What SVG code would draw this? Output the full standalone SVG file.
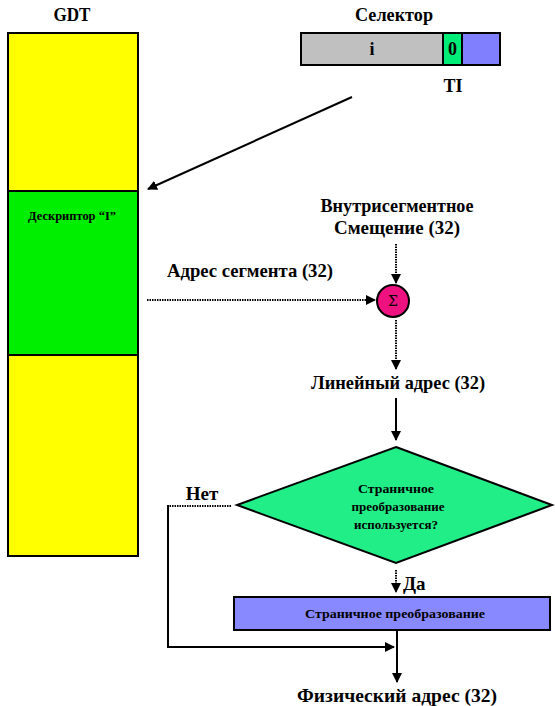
<svg xmlns="http://www.w3.org/2000/svg" width="555" height="706" viewBox="0 0 555 706">
  <style>
    text { font-family: "Liberation Serif", "DejaVu Serif", serif; font-weight: bold; fill: #000; }
    .big { font-size: 19px; }
    .mid { font-size: 18px; }
    .small { font-size: 12px; }
    .box { stroke: #000; stroke-width: 2; }
    .solid { fill: none; stroke: #000; stroke-width: 2; }
    .dotted { fill: none; stroke: #000; stroke-width: 2; stroke-dasharray: 1.5 1; }
  </style>
  <defs>
    <marker id="arrow" viewBox="0 0 10 10" refX="9" refY="5" markerWidth="5" markerHeight="5" orient="auto" markerUnits="strokeWidth">
      <path d="M0,0 L10,5 L0,10 z" fill="#000"/>
    </marker>
  </defs>

  <rect width="555" height="706" fill="#fff"/>

  <!-- Global descriptor table -->
  <g id="gdt">
    <text class="mid" x="72" y="21" text-anchor="middle" textLength="37" lengthAdjust="spacingAndGlyphs">GDT</text>
    <rect class="box" x="8" y="33" width="130" height="158" fill="#ffff00"/>
    <rect class="box" x="8" y="191" width="130" height="164" fill="#00ee00"/>
    <rect class="box" x="8" y="355" width="130" height="201" fill="#ffff00"/>
    <text class="small" x="72" y="220" text-anchor="middle" textLength="88" lengthAdjust="spacingAndGlyphs">Дескриптор “I”</text>
  </g>

  <!-- Segment selector register -->
  <g id="selector">
    <text class="mid" x="394" y="21" text-anchor="middle" textLength="78" lengthAdjust="spacingAndGlyphs">Селектор</text>
    <rect class="box" x="301" y="33" width="142" height="32" fill="#c0c0c0"/>
    <rect class="box" x="443" y="33" width="19" height="32" fill="#00ee77"/>
    <rect class="box" x="462" y="33" width="38" height="32" fill="#8080ff"/>
    <text class="mid" x="372" y="55" text-anchor="middle">i</text>
    <text class="mid" x="452.500" y="55" text-anchor="middle">0</text>
    <text class="mid" x="453" y="92" text-anchor="middle">TI</text>
  </g>

  <g id="offset">
    <text class="big" x="397" y="212" text-anchor="middle" textLength="153" lengthAdjust="spacingAndGlyphs">Внутрисегментное</text>
    <text class="big" x="397" y="234" text-anchor="middle" textLength="126" lengthAdjust="spacingAndGlyphs">Смещение (32)</text>
  </g>

  <g id="segment-address">
    <text class="big" x="250" y="277" text-anchor="middle" textLength="166" lengthAdjust="spacingAndGlyphs">Адрес сегмента (32)</text>
  </g>

  <g id="adder">
    <circle cx="393" cy="301" r="16" fill="#ee1180" stroke="#000" stroke-width="2"/>
    <text x="393" y="306" text-anchor="middle" style="font-family: 'DejaVu Serif', serif; font-size: 14px; font-weight: normal;">Σ</text>
  </g>

  <g id="linear-address">
    <text class="big" x="398" y="389" text-anchor="middle" textLength="174" lengthAdjust="spacingAndGlyphs">Линейный адрес (32)</text>
  </g>

  <g id="paging-check">
    <polygon class="box" points="396,447 552,505 396,563 237,505" fill="#22ee88"/>
    <text class="small" x="396" y="493" text-anchor="middle" textLength="76" lengthAdjust="spacingAndGlyphs">Страничное</text>
    <text class="small" x="398" y="511" text-anchor="middle" textLength="93" lengthAdjust="spacingAndGlyphs">преобразование</text>
    <text class="small" x="396" y="529" text-anchor="middle" textLength="84" lengthAdjust="spacingAndGlyphs">используется?</text>
  </g>

  <g id="paging">
    <rect class="box" x="234" y="597" width="316" height="33" fill="#8888ff"/>
    <text class="small" x="395" y="618" text-anchor="middle" style="font-size: 13px;" textLength="180" lengthAdjust="spacingAndGlyphs">Страничное преобразование</text>
  </g>

  <g id="physical-address">
    <text class="big" x="397" y="702" text-anchor="middle" textLength="200" lengthAdjust="spacingAndGlyphs">Физический адрес (32)</text>
  </g>

  <!-- Connectors -->
  <g id="connectors">
    <line class="solid" x1="352" y1="97" x2="148" y2="189" marker-end="url(#arrow)"/>
    <line class="dotted" x1="147" y1="300" x2="375" y2="300" marker-end="url(#arrow)"/>
    <line class="dotted" x1="396" y1="244" x2="396" y2="283" marker-end="url(#arrow)"/>
    <line class="dotted" x1="396" y1="320" x2="396" y2="369" marker-end="url(#arrow)"/>
    <line class="solid" x1="396" y1="398" x2="396" y2="440" marker-end="url(#arrow)"/>
    <line class="dotted" x1="396" y1="570" x2="396" y2="592" marker-end="url(#arrow)"/>
    <text class="big" x="403" y="590">Да</text>
    <polyline class="dotted" points="231,506 168,506"/>
    <polyline class="solid" points="168,505 168,647 394,647" marker-end="url(#arrow)"/>
    <line class="solid" x1="397" y1="631" x2="397" y2="682" marker-end="url(#arrow)"/>
    <text class="big" x="202" y="500" text-anchor="middle">Нет</text>
  </g>
</svg>
